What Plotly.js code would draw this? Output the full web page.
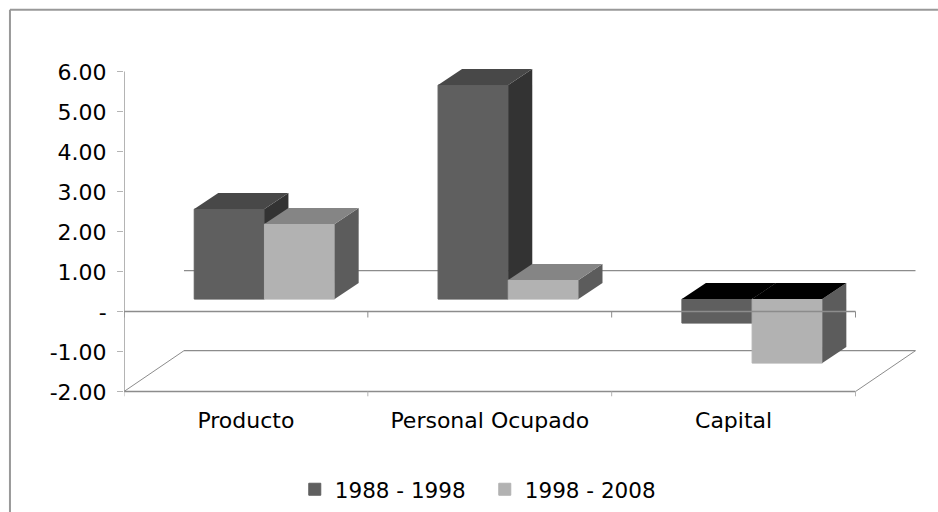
<!DOCTYPE html>
<html>
<head>
<meta charset="utf-8">
<script src="https://cdn.plot.ly/plotly-3.0.1.min.js"></script>
<style>html,body{margin:0;padding:0;background:#fff}</style>
</head>
<body>
<div id="chart" style="width:938px;height:512px"></div>
<script>
// Data
const categories = ['Producto', 'Personal Ocupado', 'Capital'];
const seriesNames = ['1988 - 1998', '1998 - 2008'];
const values1 = [2.25, 5.35, -0.6];
const values2 = [1.875, 0.475, -1.6];
const yTickVals = [-2, -1, 0, 1, 2, 3, 4, 5, 6];
const yTickText = ['-2.00', '-1.00', '-', '1.00', '2.00', '3.00', '4.00', '5.00', '6.00'];

// Colours of the shaded faces
const frontColors = ['#5f5f5f', '#b2b2b2'];
const topColors = [['#484848', '#484848', '#000000'], ['#858585', '#858585', '#000000']];
const sideColors = [['#333333', '#333333', '#333333'], ['#5c5c5c', '#5c5c5c', '#5c5c5c']];

// Oblique projection, in axis units
const barWidth = 0.288, groupShift = 0.076, barBase = 0.31;
const depthX = 0.0984, depthY = 0.4;
const wallX = 0.246, wallY = 1.02;
const nCat = categories.length;

const traces = [];
function addFace(xs, ys, color, axes) {
  traces.push({type: 'scatter', mode: 'lines', x: xs, y: ys, fill: 'toself', fillcolor: color,
    line: {width: 0, color: color}, hoverinfo: 'skip', showlegend: false, xaxis: axes[0], yaxis: axes[1]});
}
[values1, values2].forEach(function (vals, s) {
  const axes = s === 0 ? ['x', 'y'] : ['x2', 'y2'];
  const xc = vals.map((_, i) => i + 0.5 + groupShift);
  traces.push({type: 'bar', name: seriesNames[s], x: xc, y: vals,
    base: vals.map(() => barBase), width: barWidth, offset: s === 0 ? -barWidth : 0,
    marker: {color: frontColors[s], line: {width: 1, color: frontColors[s]}},
    xaxis: axes[0], yaxis: axes[1]});
  vals.forEach(function (v, i) {
    const xL = xc[i] + (s === 0 ? -barWidth : 0), xR = xL + barWidth;
    const top = barBase + Math.max(v, 0), bot = barBase + Math.min(v, 0);
    addFace([xR, xR + depthX, xR + depthX, xR, xR], [top, top + depthY, bot + depthY, bot, top], sideColors[s][i], axes);
    addFace([xL, xL + depthX, xR + depthX, xR, xL], [top, top + depthY, top + depthY, top, top], topColors[s][i], axes);
  });
});

const gridColor = '#8c8c8c';
function seg(x0, y0, x1, y1, color, width, layer) {
  return {type: 'line', xref: 'x', yref: 'y', x0: x0, y0: y0, x1: x1, y1: y1,
    line: {color: color, width: width}, layer: layer};
}
const shapes = [
  // chart frame: only the left and top edges are in the picture
  {type: 'line', xref: 'paper', yref: 'paper', x0: -0.1429, x1: 1.02, y0: 1.1484, y1: 1.1484, line: {color: '#999999', width: 2}},
  {type: 'line', xref: 'paper', yref: 'paper', x0: -0.1429, x1: -0.1429, y0: 1.1484, y1: -0.34, line: {color: '#999999', width: 2}},
  // value axis
  seg(0, -2, 0, 6, '#b4b4b4', 2, 'below'),
  // back wall line and floor
  seg(wallX, wallY, nCat + wallX, wallY, gridColor, 1.2, 'below'),
  seg(wallX, -2 + wallY, nCat + wallX, -2 + wallY, gridColor, 1.2, 'below'),
  seg(0, -2, wallX, -2 + wallY, gridColor, 1, 'below'),
  seg(nCat, -2, nCat + wallX, -2 + wallY, gridColor, 1, 'below'),
  seg(0, -2, nCat, -2, gridColor, 1.5, 'below'),
  // category axis at zero, over the bars
  seg(0, 0, nCat, 0, gridColor, 1.5, 'above')
];
for (let i = 0; i <= nCat; i++) {
  shapes.push(seg(i, 0, i, -0.15, gridColor, 1, 'above'));
  shapes.push(seg(i, -2, i, -2.12, '#b4b4b4', 1, 'below'));
}

const fontFamily = 'DejaVu Sans, sans-serif';
const xRange = [0, 3.2727], yRange = [-2.1625, 6.2875];
const layout = {
  width: 938, height: 512,
  margin: {l: 124, r: 16, t: 60, b: 114, pad: 0, autoexpand: false},
  paper_bgcolor: '#ffffff', plot_bgcolor: 'rgba(0,0,0,0)',
  showlegend: true,
  legend: {orientation: 'h', x: 0.214, y: -0.27, xanchor: 'left', yanchor: 'middle',
    font: {family: fontFamily, size: 21.5, color: '#000000'}, entrywidth: 145, entrywidthmode: 'pixels',
    bgcolor: 'rgba(0,0,0,0)', traceorder: 'normal'},
  xaxis: {range: xRange, showgrid: false, zeroline: false, showline: false, ticks: '',
    tickmode: 'array', tickvals: [0.5, 1.5, 2.5], ticktext: categories, ticklabelstandoff: 7,
    tickfont: {family: fontFamily, size: 22, color: '#000000'}, automargin: false, fixedrange: true},
  yaxis: {range: yRange, showgrid: false, zeroline: false, showline: false, ticks: 'outside', ticklen: 6,
    tickcolor: '#b4b4b4', tickwidth: 1, tickmode: 'array', tickvals: yTickVals, ticktext: yTickText,
    tickfont: {family: fontFamily, size: 22, color: '#000000'}, ticklabelstandoff: 6, ticklabelshift: 1,
    automargin: false, fixedrange: true},
  xaxis2: {range: xRange, overlaying: 'x', visible: false, fixedrange: true},
  yaxis2: {range: yRange, overlaying: 'y', visible: false, fixedrange: true},
  shapes: shapes
};
Plotly.newPlot('chart', traces, layout, {displayModeBar: false});
</script>
</body>
</html>
